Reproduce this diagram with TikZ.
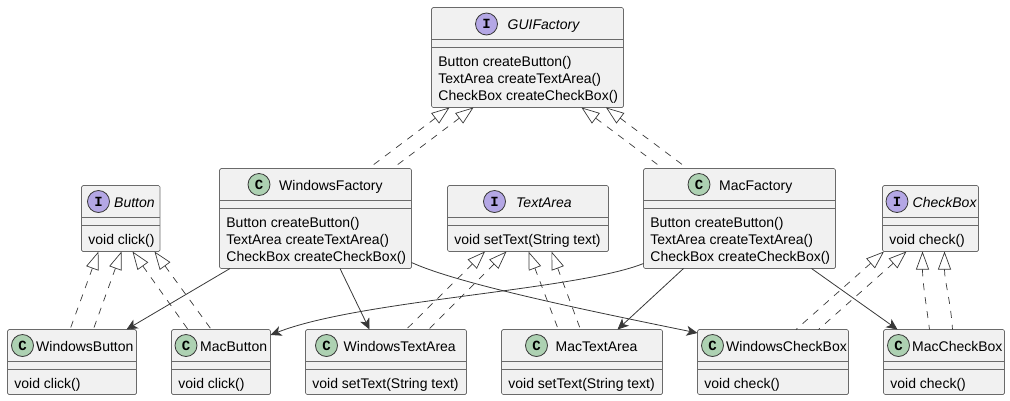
\documentclass[tikz,border=0pt]{standalone}
\usepackage{fontspec}
\setmainfont{Liberation Sans}
\setmonofont{Liberation Mono}
\usetikzlibrary{arrows.meta}
\definecolor{boxfill}{HTML}{F1F1F1}
\definecolor{boxline}{HTML}{6A6A6A}
\definecolor{linkline}{HTML}{383838}
\definecolor{classicon}{HTML}{ADD1B2}
\definecolor{interfaceicon}{HTML}{B4A7E5}
\tikzset{
  umlbox/.style={draw=boxline,fill=boxfill,line width=0.7pt,rounded corners=1.5pt,anchor=north west,inner sep=0pt,outer sep=0pt},
  umlicon/.style={circle,draw=linkline,line width=0.8pt,minimum size=22pt,inner sep=0pt,font=\fontsize{14}{14}\ttfamily\bfseries},
  umltext/.style={anchor=base west,inner sep=0pt,font=\fontsize{14}{14}\selectfont},
  realize/.style={linkline,line width=0.7pt,dash pattern=on 7pt off 7pt,{Triangle[open,length=18pt,width=13pt]}-},
  uses/.style={linkline,line width=0.8pt,-{Stealth[length=11pt,width=10pt,inset=3pt]}}
}
% name, left, top, width, height, members
\newcommand{\umlbody}[6]{
  \node[umlbox,minimum width=#4pt,minimum height=#5pt] (#1) at (#2,#3) {};
  \draw[boxline,line width=0.7pt] (#2,#3+32) -- ++(#4,0);
  \draw[boxline,line width=0.7pt] (#2,#3+40) -- ++(#4,0);
  \foreach \member [count=\i] in {#6}
    \node[umltext] (#1-member\i) at (#2+6.7,#3+41.6+\i*17.2) {\member};
}
% name, icon x, title x, baseline, fill, letter, title
\newcommand{\umlhead}[7]{
  \node[umlicon,fill=#5] (#1-icon) at (#2,#4-5.5) {#6};
  \node[umltext] (#1-title) at (#3,#4) {#7};
}
\begin{document}
\begin{tikzpicture}[x=1pt,y=-1pt]
  \useasboundingbox (0,0) rectangle (1010,400);
  % factories
  \umlbody{GUIFactory}{431.5}{7.5}{192}{100}{Button createButton(),TextArea createTextArea(),CheckBox createCheckBox()}
  \umlhead{GUIFactory}{486.5}{507.5}{29.5}{interfaceicon}{I}{\itshape GUIFactory}
  \umlbody{WindowsFactory}{219.5}{168.5}{192}{100}{Button createButton(),TextArea createTextArea(),CheckBox createCheckBox()}
  \umlhead{WindowsFactory}{259}{279}{190}{classicon}{C}{WindowsFactory}
  \umlbody{MacFactory}{643.5}{168.5}{192}{100}{Button createButton(),TextArea createTextArea(),CheckBox createCheckBox()}
  \umlhead{MacFactory}{699}{719}{190}{classicon}{C}{MacFactory}
  % interfaces
  \umlbody{Button}{81.5}{185.5}{78.5}{66}{void click()}
  \umlhead{Button}{98.5}{114}{207}{interfaceicon}{I}{\itshape Button}
  \umlbody{TextArea}{447.5}{185.5}{161}{66}{void setText(String text)}
  \umlhead{TextArea}{494.5}{516}{207}{interfaceicon}{I}{\itshape TextArea}
  \umlbody{CheckBox}{882.5}{185.5}{96}{66}{void check()}
  \umlhead{CheckBox}{897}{912.5}{207}{interfaceicon}{I}{\itshape CheckBox}
  % products
  \umlbody{WindowsButton}{7.5}{329.5}{129}{65}{void click()}
  \umlhead{WindowsButton}{22.5}{36}{351}{classicon}{C}{WindowsButton}
  \umlbody{MacButton}{171.5}{329.5}{99}{65}{void click()}
  \umlhead{MacButton}{186}{200}{351}{classicon}{C}{MacButton}
  \umlbody{WindowsTextArea}{305.5}{329.5}{161}{65}{void setText(String text)}
  \umlhead{WindowsTextArea}{326.5}{343.5}{351}{classicon}{C}{WindowsTextArea}
  \umlbody{MacTextArea}{501.5}{329.5}{161}{65}{void setText(String text)}
  \umlhead{MacTextArea}{536.5}{555.5}{351}{classicon}{C}{MacTextArea}
  \umlbody{WindowsCheckBox}{697.5}{329.5}{151}{65}{void check()}
  \umlhead{WindowsCheckBox}{712.5}{726}{351}{classicon}{C}{WindowsCheckBox}
  \umlbody{MacCheckBox}{883.5}{329.5}{121}{65}{void check()}
  \umlhead{MacCheckBox}{898.5}{912}{351}{classicon}{C}{MacCheckBox}
  % interface realizations, offsets from the left edge of each box
  \foreach \parent/\px/\child/\cx in {
      GUIFactory/18/WindowsFactory/149, GUIFactory/42/WindowsFactory/173,
      GUIFactory/150/MacFactory/19.3, GUIFactory/174.5/MacFactory/44,
      Button/17/WindowsButton/62.5, Button/40/WindowsButton/85.8,
      Button/51/MacButton/16.5, Button/73/MacButton/39.8,
      TextArea/37.5/WindowsTextArea/100.7, TextArea/59/WindowsTextArea/123,
      TextArea/81/MacTextArea/56.8, TextArea/104/MacTextArea/79,
      CheckBox/1.5/WindowsCheckBox/98.5, CheckBox/24/WindowsCheckBox/121}
    \draw[realize] ([xshift=\px pt]\parent.south west) -- ([xshift=\cx pt]\child.north west);
  \draw[realize] ([xshift=40pt]CheckBox.south west) .. controls +(0,30) and +(-4,-30) .. ([xshift=46pt]MacCheckBox.north west);
  \draw[realize] ([xshift=62pt]CheckBox.south west) .. controls +(0,30) and +(-2,-30) .. ([xshift=69pt]MacCheckBox.north west);
  % factory products
  \draw[uses] ([xshift=10.5pt]WindowsFactory.south west) -- ([xshift=119pt]WindowsButton.north west);
  \draw[uses] ([xshift=120.5pt]WindowsFactory.south west) -- ([xshift=64pt]WindowsTextArea.north west);
  \draw[uses] ([yshift=6pt]WindowsFactory.south east) .. controls +(48.5,22) and +(-107.5,-22) .. ([yshift=-3.5pt]WindowsCheckBox.north west);
  \draw[uses] ([yshift=5pt]MacFactory.south west) .. controls +(-68,27) and +(89,-35) .. ([yshift=-5.5pt]MacButton.north east);
  \draw[uses] ([xshift=40pt]MacFactory.south west) -- ([xshift=116pt]MacTextArea.north west);
  \draw[uses] ([xshift=168pt]MacFactory.south west) -- ([xshift=14pt]MacCheckBox.north west);
\end{tikzpicture}
\end{document}
